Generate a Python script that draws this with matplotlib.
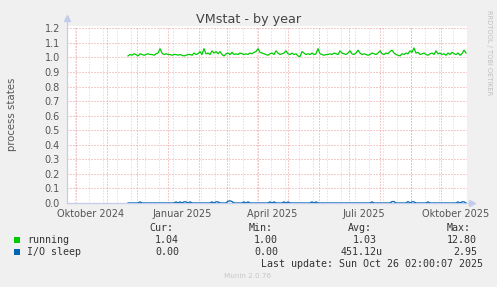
import datetime as dt
import matplotlib
matplotlib.use("Agg")
import matplotlib.pyplot as plt

# values every 2 days, starting 2024-11-22
START = dt.datetime(2024, 11, 22)
STEP_DAYS = 2

running = [
    1.01, 1.02, 1.015, 1.025, 1.02, 1.01, 1.025, 1.02, 1.015, 1.02,
    1.025, 1.02, 1.02, 1.015, 1.025, 1.03, 1.06, 1.03, 1.02, 1.025,
    1.02, 1.02, 1.015, 1.02, 1.02, 1.015, 1.02, 1.015, 1.01, 1.015,
    1.02, 1.02, 1.015, 1.03, 1.02, 1.025, 1.04, 1.02, 1.06, 1.025,
    1.03, 1.02, 1.045, 1.03, 1.04, 1.025, 1.04, 1.02, 1.01, 1.025,
    1.03, 1.02, 1.035, 1.02, 1.025, 1.02, 1.03, 1.025, 1.02, 1.025,
    1.02, 1.03, 1.025, 1.035, 1.04, 1.06, 1.035, 1.03, 1.025, 1.02,
    1.015, 1.025, 1.03, 1.02, 1.045, 1.03, 1.02, 1.025, 1.03, 1.045,
    1.025, 1.02, 1.03, 1.02, 1.025, 1.01, 1.005, 1.04, 1.03, 1.02,
    1.025, 1.02, 1.03, 1.02, 1.025, 1.06, 1.025, 1.02, 1.015, 1.02,
    1.02, 1.025, 1.02, 1.03, 1.025, 1.02, 1.045, 1.03, 1.025, 1.02,
    1.03, 1.045, 1.025, 1.02, 1.03, 1.05, 1.03, 1.02, 1.025, 1.02,
    1.015, 1.02, 1.03, 1.025, 1.02, 1.03, 1.045, 1.025, 1.02, 1.03,
    1.025, 1.04, 1.05, 1.03, 1.02, 1.015, 1.01, 1.025, 1.02, 1.03,
    1.025, 1.045, 1.035, 1.065, 1.03, 1.035, 1.02, 1.025, 1.03, 1.02,
    1.015, 1.025, 1.03, 1.02, 1.045, 1.025, 1.03, 1.02, 1.025, 1.015,
    1.03, 1.02, 1.035, 1.025, 1.02, 1.03, 1.015, 1.025, 1.05, 1.03,
]

io_sleep = [
    0, 0, 0, 0, 0, 0, 0.008, 0, 0, 0,
    0, 0, 0, 0, 0, 0, 0, 0, 0, 0,
    0, 0, 0, 0, 0.008, 0, 0.008, 0, 0.008, 0.008,
    0, 0.008, 0, 0, 0, 0, 0, 0, 0, 0,
    0, 0, 0.008, 0, 0.008, 0.008, 0, 0, 0, 0,
    0.012, 0.015, 0.01, 0, 0, 0, 0, 0, 0.008, 0,
    0.008, 0, 0, 0, 0, 0, 0, 0, 0, 0,
    0, 0.008, 0, 0.008, 0, 0, 0, 0, 0.008, 0,
    0.008, 0, 0, 0, 0, 0, 0, 0, 0, 0,
    0, 0, 0.008, 0, 0.008, 0, 0, 0, 0, 0,
    0, 0, 0, 0, 0, 0, 0, 0, 0, 0,
    0, 0, 0, 0, 0, 0, 0, 0, 0, 0,
    0, 0, 0.008, 0, 0, 0, 0, 0, 0, 0,
    0, 0, 0.01, 0.01, 0, 0, 0, 0, 0, 0,
    0.01, 0, 0.008, 0.008, 0, 0, 0, 0, 0, 0,
    0.008, 0, 0, 0, 0, 0, 0, 0, 0, 0,
    0, 0, 0, 0, 0, 0.008, 0, 0.008, 0.008, 0,
]

x_labels = ["Oktober 2024", "Januar 2025", "April 2025", "Juli 2025", "Oktober 2025"]
x_label_dates = [dt.datetime(2024, 10, 16), dt.datetime(2025, 1, 15), dt.datetime(2025, 4, 15),
                 dt.datetime(2025, 7, 16), dt.datetime(2025, 10, 16)]
y_ticks = [0.0, 0.1, 0.2, 0.3, 0.4, 0.5, 0.6, 0.7, 0.8, 0.9, 1.0, 1.1, 1.2]

legend_names = ["running", "I/O sleep"]
legend_colors = ["#00cc00", "#0066b3"]
cur_vals = ["1.04", "0.00"]
min_vals = ["1.00", "0.00"]
avg_vals = ["1.03", "451.12u"]
max_vals = ["12.80", "2.95"]

W, H = 497, 287
BG = "#f0f0f0"
X0 = dt.datetime(2024, 9, 22)
X1 = dt.datetime(2025, 10, 27)


def px(x, y):
    return x / W, 1 - y / H


fig = plt.figure(figsize=(W / 100, H / 100), dpi=100, facecolor=BG)
left, top = px(67, 26)
right, bottom = px(467, 203)
ax = fig.add_axes([left, bottom, right - left, top - bottom], facecolor="white")

dates = [START + dt.timedelta(days=STEP_DAYS * i) for i in range(len(running))]

# grid: minor every two weeks, major at month starts and every 0.1
minor_days = []
d = dt.datetime(2024, 9, 30)
while d < X1:
    minor_days.append(d)
    d += dt.timedelta(days=14)
for d in minor_days:
    ax.axvline(d, color="#d4d4d4", lw=0.72, ls=(0, (1, 2)), zorder=1)

months = [dt.datetime(2024 + (9 + k) // 12, (9 + k) % 12 + 1, 1) for k in range(13)]
for d in months:
    ax.axvline(d, color="#e89898", lw=0.72, ls=(0, (1, 2)), zorder=2)
for v in y_ticks[1:]:
    ax.axhline(v, color="#e89898", lw=0.72, ls=(0, (1, 2)), zorder=2)

ax.plot(dates, running, color=legend_colors[0], lw=0.9, zorder=4)
ax.plot(dates, io_sleep, color=legend_colors[1], lw=0.9, zorder=5)

ax.set_xlim(X0, X1)
ax.set_ylim(0, 1.2158)
ax.set_yticks(y_ticks)
ax.set_yticklabels(["%.1f" % v for v in y_ticks])
ax.set_xticks(x_label_dates)
ax.set_xticklabels(x_labels)
ax.tick_params(length=0, labelsize=7, labelcolor="#555555")
ax.tick_params(axis="y", pad=5)
ax.tick_params(axis="x", pad=4)
for s in ax.spines.values():
    s.set_visible(False)

# axis lines with arrows
axis_col = "#c4ccee"
ax.plot([0, 0], [0, 1.03], transform=ax.transAxes, color=axis_col, lw=0.9, clip_on=False, zorder=3)
ax.plot([0], [1.045], transform=ax.transAxes, marker="^", ms=4.5, color=axis_col, clip_on=False)
ax.plot([0, 1.01], [0, 0], transform=ax.transAxes, color=axis_col, lw=0.9, clip_on=False, zorder=3)
ax.plot([1.013], [0], transform=ax.transAxes, marker=">", ms=4.5, color=axis_col, clip_on=False)

ax.set_ylabel("process states", fontsize=7.3, color="#555555", labelpad=20)

fig.text(*px(249, 19), "VMstat - by year", fontsize=9.2, color="#444444", ha="center", va="center")
fig.text(*px(489, 53), "RRDTOOL / TOBI OETIKER", fontsize=4.8, color="#c0c0c0",
         rotation=270, ha="center", va="center")

mono = dict(family="DejaVu Sans Mono", fontsize=7.2, color="#333333", va="center")
fig.text(*px(149, 228), "Cur:", ha="left", **mono)
fig.text(*px(249, 228), "Min:", ha="left", **mono)
fig.text(*px(348, 228), "Avg:", ha="left", **mono)
fig.text(*px(447, 228), "Max:", ha="left", **mono)

row_y = [240, 252]
for i, name in enumerate(legend_names):
    y = row_y[i]
    sx, sy = px(14, y + 3)
    fig.patches.append(plt.Rectangle((sx, sy), 6 / W, 6 / H, transform=fig.transFigure,
                                     facecolor=legend_colors[i], edgecolor="none"))
    fig.text(*px(27, y), name, ha="left", **mono)
    fig.text(*px(179, y), cur_vals[i], ha="right", **mono)
    fig.text(*px(278, y), min_vals[i], ha="right", **mono)
    fig.text(*px(383 if i else 377, y), avg_vals[i], ha="right", **mono)
    fig.text(*px(477, y), max_vals[i], ha="right", **mono)

fig.text(*px(483, 264), "Last update: Sun Oct 26 02:00:07 2025", ha="right", **mono)
fig.text(*px(248, 276), "Munin 2.0.76", fontsize=5.2, color="#c8c8c8", ha="center", va="center")

fig.savefig("out.png", dpi=100, facecolor=BG)
